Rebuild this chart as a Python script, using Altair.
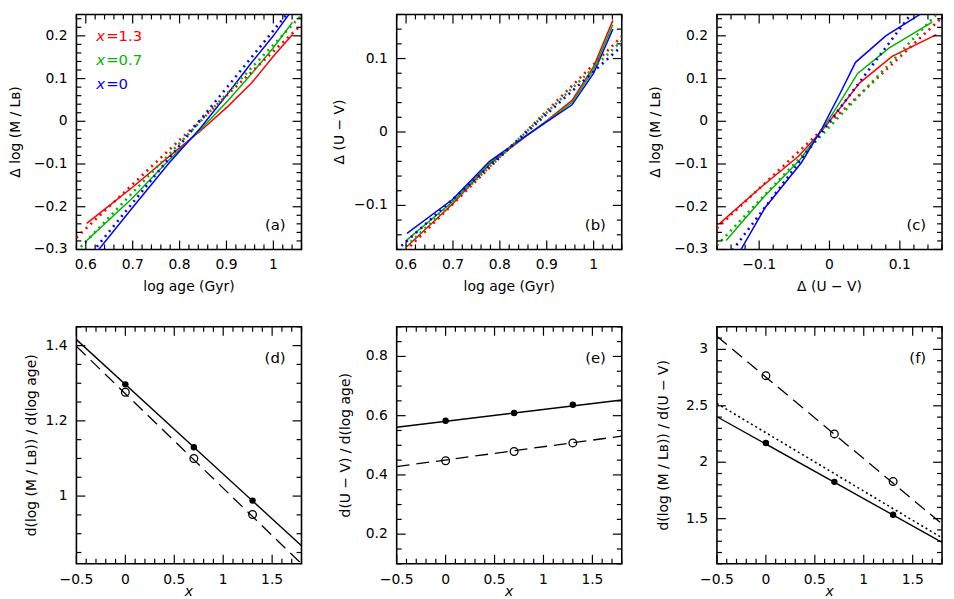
import altair as alt
import numpy as np
import pandas as pd

FONT = "DejaVu Sans"

# ---------------- data ----------------
SERIES = ["x=1.3", "x=0.7", "x=0"]
SERIES_COLORS = ["#ff0000", "#00b400", "#0000ff"]
LEGEND_VALUES = ["=1.3", "=0.7", "=0"]
PANEL_TAGS = ["(a)", "(b)", "(c)", "(d)", "(e)", "(f)"]

# model tracks (solid lines), one value per age
LOG_AGE = [0.602, 0.699, 0.778, 0.845, 0.903, 0.954, 1.000, 1.041]
DML_RED = [-0.239, -0.155, -0.082, -0.022, 0.035, 0.090, 0.152, 0.203]
DML_GREEN = [-0.279, -0.180, -0.090, -0.019, 0.048, 0.112, 0.172, 0.232]
DML_BLUE = [-0.335, -0.203, -0.097, -0.015, 0.065, 0.138, 0.200, 0.262]
DUV_RED = [-0.156, -0.098, -0.044, -0.011, 0.017, 0.043, 0.089, 0.152]
DUV_GREEN = [-0.147, -0.095, -0.042, -0.010, 0.016, 0.040, 0.085, 0.146]
DUV_BLUE = [-0.138, -0.092, -0.040, -0.010, 0.015, 0.037, 0.080, 0.140]

# linear fits (dotted lines), end points
FIT_AGE = [0.58, 1.06]
FIT_ML_RED = [-0.272, 0.226]
FIT_ML_GREEN = [-0.305, 0.248]
FIT_ML_BLUE = [-0.352, 0.293]
FIT_UV_RED = [-0.174, 0.130]
FIT_UV_GREEN = [-0.168, 0.124]
FIT_UV_BLUE = [-0.161, 0.117]
FIT_C_X = [-0.16, 0.16]
FIT_C_RED = [-0.250, 0.243]
FIT_C_GREEN = [-0.290, 0.264]
FIT_C_BLUE = [-0.350, 0.347]

# slopes versus IMF exponent x
X_PARAM = [0.0, 0.7, 1.3]
D_FILLED = [1.297, 1.130, 0.988]
D_OPEN = [1.276, 1.100, 0.951]
E_FILLED = [0.583, 0.609, 0.637]
E_OPEN = [0.448, 0.479, 0.508]
F_FILLED = [2.170, 1.826, 1.535]
F_OPEN = [2.767, 2.251, 1.829]
LINE_X = [-0.5, 1.8]
D_SOLID = [1.416, 0.868]
D_DASHED = [1.398, 0.820]
E_SOLID = [0.561, 0.653]
E_DASHED = [0.428, 0.531]
F_SOLID = [2.403, 1.290]
F_DASHED = [3.116, 1.453]
F_DOTTED = [2.520, 1.330]

# tick labels
AGE_LABELS = [0.6, 0.7, 0.8, 0.9, 1.0]
ML_LABELS = [-0.3, -0.2, -0.1, 0, 0.1, 0.2]
UV_LABELS = [-0.1, 0, 0.1]
X_LABELS = [-0.5, 0, 0.5, 1, 1.5]
D_LABELS = [1, 1.2, 1.4]
E_LABELS = [0.2, 0.4, 0.6, 0.8]
F_LABELS = [1.5, 2, 2.5, 3]

# ---------------- layout ----------------
W = 227
H_TOP = 237
H_BOT = 239
MAJOR_TICK = 9
MINOR_TICK = 5


def series_df(xs_list, ys_list):
    rows = []
    for s, xs, ys in zip(SERIES, xs_list, ys_list):
        for i, (xv, yv) in enumerate(zip(xs, ys)):
            rows.append({"series": s, "x": xv, "y": yv, "order": i})
    return pd.DataFrame(rows)


def xy_df(xs, ys):
    return pd.DataFrame({"x": xs, "y": ys, "order": list(range(len(xs)))})


def tick_vals(lo, hi, step):
    k0 = int(np.ceil(lo / step - 1e-6))
    k1 = int(np.floor(hi / step + 1e-6))
    return [round(k * step, 6) for k in range(k0, k1 + 1)]


def split_ticks(lo, hi, step, major):
    allv = tick_vals(lo, hi, step)
    maj = [v for v in allv if abs(v / major - round(v / major)) < 1e-3]
    mino = [v for v in allv if abs(v / major - round(v / major)) >= 1e-3]
    return maj, mino


def tick_segments(xdom, ydom, h, xmaj, xmin, ymaj, ymin):
    """Short inward tick segments on all four sides (axis styling)."""
    rows = []
    tid = 0
    xr = xdom[1] - xdom[0]
    yr = ydom[1] - ydom[0]
    for vals, size in ((xmaj, MAJOR_TICK), (xmin, MINOR_TICK)):
        dy = size * yr / h
        for v in vals:
            for y0, y1 in ((ydom[0], ydom[0] + dy), (ydom[1], ydom[1] - dy)):
                rows.append({"id": tid, "x": v, "y": y0, "order": 0})
                rows.append({"id": tid, "x": v, "y": y1, "order": 1})
                tid += 1
    for vals, size in ((ymaj, MAJOR_TICK), (ymin, MINOR_TICK)):
        dx = size * xr / W
        for v in vals:
            for x0, x1 in ((xdom[0], xdom[0] + dx), (xdom[1], xdom[1] - dx)):
                rows.append({"id": tid, "x": x0, "y": v, "order": 0})
                rows.append({"id": tid, "x": x1, "y": v, "order": 1})
                tid += 1
    return pd.DataFrame(rows)


def fmt(v):
    return f"{v:g}".replace("-", "\u2212")


def panel(layers, xdom, ydom, xstep, xmajor, ystep, ymajor, xlabels, ylabels,
          xtitle, ytitle, h, tag, tag_y, ytitle_x, x_italic=False, legend=False):
    xs = alt.Scale(domain=xdom, nice=False, zero=False)
    ys = alt.Scale(domain=ydom, nice=False, zero=False)
    xmaj, xmin = split_ticks(xdom[0], xdom[1], xstep, xmajor)
    ymaj, ymin = split_ticks(ydom[0], ydom[1], ystep, ymajor)

    charts = []
    for df, mark, extra in layers:
        enc = dict(x=alt.X("x:Q", scale=xs, axis=None),
                   y=alt.Y("y:Q", scale=ys, axis=None))
        enc.update(extra)
        charts.append(mark(alt.Chart(df)).encode(**enc))

    # inward ticks
    tdf = tick_segments(xdom, ydom, h, xmaj, xmin, ymaj, ymin)
    charts.append(alt.Chart(tdf).mark_line(color="black", strokeWidth=1.2).encode(
        x=alt.X("x:Q", scale=xs, axis=None),
        y=alt.Y("y:Q", scale=ys, axis=None),
        detail="id:N",
        order=alt.Order("order:Q")))

    # tick labels
    xl = pd.DataFrame({"x": xlabels, "lab": [fmt(v) for v in xlabels]})
    charts.append(alt.Chart(xl).mark_text(
        font=FONT, fontSize=14, align="center", baseline="middle", color="black"
    ).encode(x=alt.X("x:Q", scale=xs, axis=None), y=alt.value(h + 16), text="lab:N"))
    yl = pd.DataFrame({"y": ylabels, "lab": [fmt(v) for v in ylabels]})
    charts.append(alt.Chart(yl).mark_text(
        font=FONT, fontSize=14, align="right", baseline="middle", color="black"
    ).encode(y=alt.Y("y:Q", scale=ys, axis=None), x=alt.value(-9), text="lab:N"))

    # axis titles
    charts.append(alt.Chart(pd.DataFrame({"t": [xtitle]})).mark_text(
        font=FONT, fontSize=14, align="center", baseline="middle", color="black",
        fontStyle="italic" if x_italic else "normal"
    ).encode(text="t:N", x=alt.value(W / 2), y=alt.value(h + (28 if x_italic else 38))))
    charts.append(alt.Chart(pd.DataFrame({"t": [ytitle]})).mark_text(
        font=FONT, fontSize=14, align="center", baseline="middle", color="black",
        angle=270
    ).encode(text="t:N", x=alt.value(ytitle_x), y=alt.value(h / 2)))

    charts.append(alt.Chart(pd.DataFrame({"t": [tag]})).mark_text(
        font=FONT, fontSize=15, align="right", baseline="middle", color="black"
    ).encode(text="t:N", x=alt.value(W - 16), y=alt.value(tag_y)))

    if legend:
        for i in range(3):
            ypix = 22 + 24 * i
            charts.append(alt.Chart(pd.DataFrame({"t": ["x"]})).mark_text(
                font=FONT, fontSize=15, fontStyle="italic", align="left",
                baseline="middle", color=SERIES_COLORS[i]
            ).encode(text="t:N", x=alt.value(20), y=alt.value(ypix)))
            charts.append(alt.Chart(pd.DataFrame({"t": [LEGEND_VALUES[i]]})).mark_text(
                font=FONT, fontSize=15, align="left", baseline="middle",
                color=SERIES_COLORS[i]
            ).encode(text="t:N", x=alt.value(30), y=alt.value(ypix)))

    return alt.layer(*charts).properties(width=W, height=h)


color_enc = {
    "color": alt.Color("series:N", scale=alt.Scale(domain=SERIES, range=SERIES_COLORS),
                       legend=None),
    "order": alt.Order("order:Q"),
}
black_enc = {"order": alt.Order("order:Q")}


def solid_col(c):
    return c.mark_line(strokeWidth=1.5, clip=True)


def dotted_col(c):
    return c.mark_line(strokeWidth=2.6, strokeDash=[2, 4.5], clip=True)


def solid_k(c):
    return c.mark_line(strokeWidth=1.4, clip=True, color="black")


def dashed_k(c):
    return c.mark_line(strokeWidth=1.3, strokeDash=[13, 7], clip=True, color="black")


def dotted_k(c):
    return c.mark_line(strokeWidth=1.6, strokeDash=[2, 3], clip=True, color="black")


def filled_k(c):
    return c.mark_point(filled=True, size=42, color="black", opacity=1, clip=True)


def open_k(c):
    return c.mark_point(filled=False, size=60, strokeWidth=1.3, color="black",
                        opacity=1, clip=True)


TITLE_ML = "Δ log (M / Lʙ)"
TITLE_UV = "Δ (U − V)"
TITLE_AGE = "log age (Gyr)"

pa = panel(
    [(series_df([LOG_AGE] * 3, [DML_RED, DML_GREEN, DML_BLUE]), solid_col, color_enc),
     (series_df([FIT_AGE] * 3, [FIT_ML_RED, FIT_ML_GREEN, FIT_ML_BLUE]), dotted_col, color_enc)],
    [0.58, 1.06], [-0.3, 0.25], 0.02, 0.1, 0.02, 0.1,
    AGE_LABELS, ML_LABELS, TITLE_AGE, TITLE_ML, H_TOP, PANEL_TAGS[0], 212, -61,
    legend=True)

pb = panel(
    [(series_df([LOG_AGE] * 3, [DUV_RED, DUV_GREEN, DUV_BLUE]), solid_col, color_enc),
     (series_df([FIT_AGE] * 3, [FIT_UV_RED, FIT_UV_GREEN, FIT_UV_BLUE]), dotted_col, color_enc)],
    [0.58, 1.06], [-0.16, 0.16], 0.02, 0.1, 0.02, 0.1,
    AGE_LABELS, UV_LABELS, TITLE_AGE, TITLE_UV, H_TOP, PANEL_TAGS[1], 212, -57)

pc = panel(
    [(series_df([DUV_RED, DUV_GREEN, DUV_BLUE], [DML_RED, DML_GREEN, DML_BLUE]), solid_col, color_enc),
     (series_df([FIT_C_X] * 3, [FIT_C_RED, FIT_C_GREEN, FIT_C_BLUE]), dotted_col, color_enc)],
    [-0.16, 0.16], [-0.3, 0.25], 0.02, 0.1, 0.02, 0.1,
    UV_LABELS, ML_LABELS, TITLE_UV, TITLE_ML, H_TOP, PANEL_TAGS[2], 212, -61)

pd_ = panel(
    [(xy_df(LINE_X, D_SOLID), solid_k, black_enc),
     (xy_df(LINE_X, D_DASHED), dashed_k, black_enc),
     (xy_df(X_PARAM, D_FILLED), filled_k, {}),
     (xy_df(X_PARAM, D_OPEN), open_k, {})],
    [-0.5, 1.8], [0.82, 1.45], 0.1, 0.5, 0.05, 0.2,
    X_LABELS, D_LABELS, "x", "d(log (M / Lʙ)) / d(log age)", H_BOT, PANEL_TAGS[3],
    31, -45, x_italic=True)

pe = panel(
    [(xy_df(LINE_X, E_SOLID), solid_k, black_enc),
     (xy_df(LINE_X, E_DASHED), dashed_k, black_enc),
     (xy_df(X_PARAM, E_FILLED), filled_k, {}),
     (xy_df(X_PARAM, E_OPEN), open_k, {})],
    [-0.5, 1.8], [0.1, 0.9], 0.1, 0.5, 0.05, 0.2,
    X_LABELS, E_LABELS, "x", "d(U − V) / d(log age)", H_BOT, PANEL_TAGS[4],
    31, -51, x_italic=True)

pf = panel(
    [(xy_df(LINE_X, F_SOLID), solid_k, black_enc),
     (xy_df(LINE_X, F_DASHED), dashed_k, black_enc),
     (xy_df(LINE_X, F_DOTTED), dotted_k, black_enc),
     (xy_df(X_PARAM, F_FILLED), filled_k, {}),
     (xy_df(X_PARAM, F_OPEN), open_k, {})],
    [-0.5, 1.8], [1.1, 3.2], 0.1, 0.5, 0.1, 0.5,
    X_LABELS, F_LABELS, "x", "d(log (M / Lʙ)) / d(U − V)", H_BOT, PANEL_TAGS[5],
    31, -53, x_italic=True)

chart = alt.concat(
    pa, pb, pc, pd_, pe, pf, columns=3,
    spacing={"row": 78, "column": 96}, bounds="flush"
).properties(padding=0, background="white").configure_view(
    stroke="black", strokeWidth=1.6
)

chart.save("out.html", embed_options={"renderer": "svg", "actions": False})
